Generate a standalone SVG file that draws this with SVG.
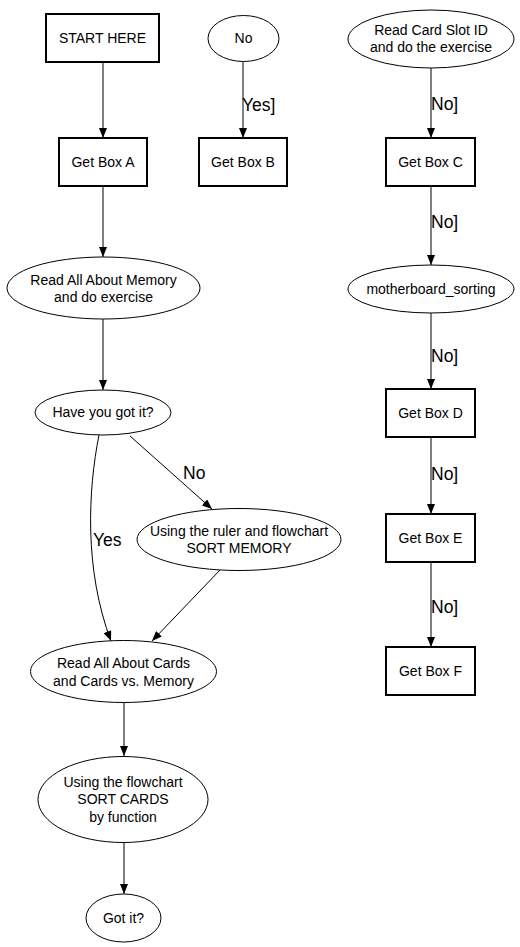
<svg xmlns="http://www.w3.org/2000/svg" width="520" height="947" viewBox="0 0 520 947">
<style>
.box{fill:#fff;stroke:#000;stroke-width:2}
.ell{fill:#fff;stroke:#000;stroke-width:1}
.t{font-family:"Liberation Sans",Arial,sans-serif;font-size:14px;fill:#000;text-anchor:middle}
.lbl{font-family:"Liberation Sans",Arial,sans-serif;font-size:17.5px;fill:#000}
.e{fill:none;stroke:#000;stroke-width:1;marker-end:url(#ah)}
</style>
<defs>
<marker id="ah" viewBox="0 0 10 8" refX="10" refY="4" markerWidth="10" markerHeight="8" markerUnits="userSpaceOnUse" orient="auto">
<path d="M0,0 L10,4 L0,8 z" fill="#000"/>
</marker>
</defs>
<rect width="520" height="947" fill="#fff"/>
<g id="connectors">
<path class="e" d="M103,62 L103,138"/>
<path class="e" d="M243,62 L243,138"/>
<path class="e" d="M103,186 L103,257"/>
<path class="e" d="M103,319 L103,390"/>
<path class="e" d="M99,435 C88,490 84,570 111,641"/>
<path class="e" d="M130,436 L212,509"/>
<path class="e" d="M220,570 L152,641"/>
<path class="e" d="M124,702 L124,756"/>
<path class="e" d="M124,843 L124,894"/>
<path class="e" d="M431,68 L431,138"/>
<path class="e" d="M431,186 L431,265"/>
<path class="e" d="M431,313 L431,389"/>
<path class="e" d="M431,437 L431,514"/>
<path class="e" d="M431,562 L431,647"/>
<text class="lbl" x="242" y="111">Yes]</text>
<text class="lbl" x="93" y="546">Yes</text>
<text class="lbl" x="183" y="479">No</text>
<text class="lbl" x="431" y="110">No]</text>
<text class="lbl" x="431" y="228">No]</text>
<text class="lbl" x="431" y="362">No]</text>
<text class="lbl" x="431" y="480">No]</text>
<text class="lbl" x="431" y="613">No]</text>
</g>
<g id="start"><rect class="box" x="46" y="14" width="113" height="48"/><text class="t" x="102.5" y="43">START HERE</text></g>
<g id="no"><ellipse class="ell" cx="243.5" cy="38.5" rx="35.5" ry="23"/><text class="t" x="243.5" y="43">No</text></g>
<g id="boxA"><rect class="box" x="59" y="138" width="88" height="48"/><text class="t" x="103" y="167">Get Box A</text></g>
<g id="boxB"><rect class="box" x="199" y="138" width="88" height="48"/><text class="t" x="243" y="167">Get Box B</text></g>
<g id="memory"><ellipse class="ell" cx="103.5" cy="288" rx="96.5" ry="31"/><text class="t" x="103.5" y="285">Read All About Memory</text><text class="t" x="103.5" y="302">and do exercise</text></g>
<g id="have"><ellipse class="ell" cx="103" cy="412.5" rx="68" ry="22.5"/><text class="t" x="103" y="417">Have you got it?</text></g>
<g id="ruler"><ellipse class="ell" cx="239" cy="539.5" rx="102" ry="31"/><text class="t" x="239" y="536">Using the ruler and flowchart</text><text class="t" x="239" y="553">SORT MEMORY</text></g>
<g id="cards"><ellipse class="ell" cx="123.5" cy="671.5" rx="93" ry="31"/><text class="t" x="123.5" y="668">Read All About Cards</text><text class="t" x="123.5" y="686">and Cards vs. Memory</text></g>
<g id="sortcards"><ellipse class="ell" cx="123" cy="799.5" rx="85" ry="43"/><text class="t" x="123" y="787">Using the flowchart</text><text class="t" x="123" y="804">SORT CARDS</text><text class="t" x="123" y="822">by function</text></g>
<g id="gotit"><ellipse class="ell" cx="123.5" cy="918" rx="37.5" ry="24"/><text class="t" x="123.5" y="923">Got it?</text></g>
<g id="cardslot"><ellipse class="ell" cx="431" cy="39" rx="83" ry="29"/><text class="t" x="431" y="35">Read Card Slot ID</text><text class="t" x="431" y="52">and do the exercise</text></g>
<g id="boxC"><rect class="box" x="386" y="138" width="89" height="48"/><text class="t" x="430.5" y="167">Get Box C</text></g>
<g id="mobo"><ellipse class="ell" cx="431" cy="289" rx="83" ry="24"/><text class="t" x="431" y="294">motherboard_sorting</text></g>
<g id="boxD"><rect class="box" x="386" y="389" width="89" height="48"/><text class="t" x="430.5" y="418">Get Box D</text></g>
<g id="boxE"><rect class="box" x="386" y="514" width="89" height="48"/><text class="t" x="430.5" y="543">Get Box E</text></g>
<g id="boxF"><rect class="box" x="386" y="647" width="89" height="48"/><text class="t" x="430.5" y="676">Get Box F</text></g>
</svg>
